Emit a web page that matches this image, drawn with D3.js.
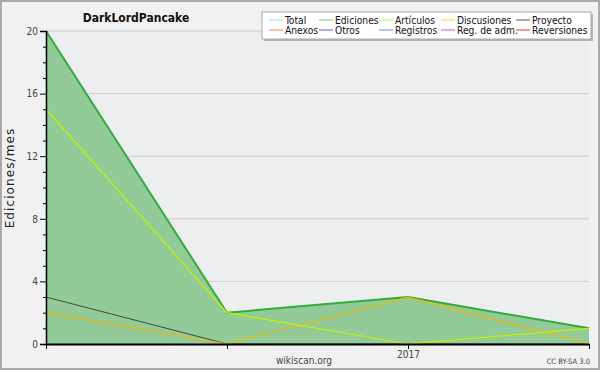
<!DOCTYPE html>
<html>
<head>
<meta charset="utf-8">
<script src="https://cdn.jsdelivr.net/npm/d3@7"></script>
<style>
  body { margin: 0; background: #fff; }
  svg text { font-family: "DejaVu Sans Condensed", "DejaVu Sans", sans-serif; font-stretch: condensed; }
</style>
</head>
<body>
<div id="viz"></div>
<script>
// data ----
var months = ["2016-11", "2016-12", "2017-01", "2017-02"]
var xLabels = ["", "", "2017", ""]
var total = [20, 2, 3, 1]
var ediciones = [20, 2, 3, 1]
var articulos = [15, 2, 0, 1]
var discusiones = [2, 0, 3, 0]
var proyecto = [3, 0, 0, 0]
var yTicks = [0, 4, 8, 12, 16, 20]

var legendNames = ["Total", "Ediciones", "Artículos", "Discusiones", "Proyecto",
                   "Anexos", "Otros", "Registros", "Reg. de adm.", "Reversiones"]
var legendColors = ["#aadddd", "#77c48a", "#ccee55", "#f7cc44", "#555555",
                    "#f78244", "#8844cc", "#7788ee", "#cc55dd", "#ee3333"]

width = 600
height = 370
margin = {top: 31, left: 46, right: 11, bottom: 26}

var svg = d3.select("#viz")
  .append("svg")
  .attr("width", width)
  .attr("height", height)

// background + frame
svg.append("rect")
  .attr("x", 1).attr("y", 1)
  .attr("width", width - 2).attr("height", height - 2)
  .attr("fill", "#f1f1f1")
  .attr("stroke", "#aaaaaa")
  .attr("stroke-width", 2)

svg.append("rect")
  .attr("x", margin.left).attr("y", margin.top)
  .attr("width", width - margin.left - margin.right)
  .attr("height", height - margin.top - margin.bottom)
  .attr("fill", "#eceef0")

// step 1 : Scaling ----
var xScale = d3.scalePoint()
  .domain(months)
  .range([margin.left, width - margin.right])

var yScale = d3.scaleLinear()
  .domain([0, 20])
  .range([height - margin.bottom, margin.top])

// grid
svg.append("g")
  .selectAll("line")
  .data(yTicks.slice(1))
  .enter()
  .append("line")
    .attr("x1", margin.left)
    .attr("x2", width - margin.right)
    .attr("y1", d => yScale(d))
    .attr("y2", d => yScale(d))
    .attr("stroke", "#cccccc")
    .attr("stroke-width", 1)

// step 2 : Area + lines ----
var area = d3.area()
  .x((d, i) => xScale(months[i]))
  .y0(yScale(0))
  .y1(d => yScale(d))

var line = d3.line()
  .x((d, i) => xScale(months[i]))
  .y(d => yScale(d))

svg.append("path")
  .datum(ediciones)
  .attr("d", area)
  .attr("fill", "#92cb98")

svg.append("path")
  .datum(total)
  .attr("d", line)
  .attr("fill", "none")
  .attr("stroke", "#aadddd")
  .attr("stroke-width", 1)

svg.append("path")
  .datum(ediciones)
  .attr("d", line)
  .attr("fill", "none")
  .attr("stroke", "#30ac3c")
  .attr("stroke-width", 2)

svg.append("path")
  .datum(proyecto)
  .attr("d", line)
  .attr("fill", "none")
  .attr("stroke", "#444444")
  .attr("stroke-width", 1)

svg.append("path")
  .datum(discusiones)
  .attr("d", line)
  .attr("fill", "none")
  .attr("stroke", "#f2b800")
  .attr("stroke-width", 1.2)

svg.append("path")
  .datum(articulos)
  .attr("d", line)
  .attr("fill", "none")
  .attr("stroke", "#c4f000")
  .attr("stroke-width", 1.2)

// step 3 : Axis ----
var y_axis = d3.axisLeft(yScale)
  .tickValues(yTicks)
  .tickSize(6)
  .tickFormat(d3.format("d"))

var y_minor = d3.axisLeft(yScale)
  .tickValues(d3.range(0, 21, 1).filter(d => d % 4 != 0))
  .tickSize(3)
  .tickFormat("")

var yg = svg.append("g")
  .attr("transform", "translate(" + margin.left + ",0)")
  .call(y_axis)
svg.append("g")
  .attr("transform", "translate(" + margin.left + ",0)")
  .call(y_minor)
  .select(".domain").remove()

yg.select(".domain").attr("stroke", "#000").attr("stroke-width", 1.5)
yg.selectAll("text").attr("font-size", 10).attr("fill", "#444").attr("dx", 1)

var x_axis = d3.axisBottom(xScale)
  .tickSize(5)
  .tickSizeOuter(0)
  .tickFormat((d, i) => xLabels[i])

var xg = svg.append("g")
  .attr("transform", "translate(0," + yScale(0) + ")")
  .call(x_axis)

xg.select(".domain").attr("stroke", "#000").attr("stroke-width", 2)
xg.selectAll("text").attr("font-size", 10).attr("fill", "#444").attr("dy", "0.55em")

// step 4 : Labels ----
svg.append("text")
  .text("DarkLordPancake")
  .attr("x", 136).attr("y", 22)
  .attr("text-anchor", "middle")
  .attr("font-size", 12)
  .attr("font-weight", "bold")
  .attr("fill", "#111")

svg.append("text")
  .text("Ediciones/mes")
  .attr("transform", "translate(14,178) rotate(-90)")
  .attr("text-anchor", "middle")
  .attr("font-size", 12)
  .style("font-family", "'DejaVu Sans', sans-serif")
  .style("font-stretch", "normal")
  .attr("letter-spacing", 1.1)
  .attr("fill", "#222")

svg.append("text")
  .text("wikiscan.org")
  .attr("x", 304).attr("y", 364)
  .attr("text-anchor", "middle")
  .attr("font-size", 10)
  .attr("fill", "#444")

svg.append("text")
  .text("CC BY-SA 3.0")
  .attr("x", 590).attr("y", 364)
  .attr("text-anchor", "end")
  .attr("font-size", 7.5)
  .attr("fill", "#444")

// step 5 : Legend ----
var legend = svg.append("g")

legend.append("rect")
  .attr("x", 264).attr("y", 14)
  .attr("width", 329).attr("height", 27)
  .attr("fill", "#b4b4b4")

legend.append("rect")
  .attr("x", 262).attr("y", 12)
  .attr("width", 329).attr("height", 27)
  .attr("fill", "#ffffff")
  .attr("stroke", "#aaaaaa")

var colX = [269, 319, 379, 441, 516]

var items = legend.selectAll(".item")
  .data(legendNames)
  .enter()
  .append("g")
    .attr("class", "item")
    .attr("transform", (d, i) => "translate(" + colX[i % 5] + "," + (20 + Math.floor(i / 5) * 10) + ")")

items.append("line")
  .attr("x1", 0).attr("x2", 14)
  .attr("stroke", (d, i) => legendColors[i])
  .attr("stroke-width", 1)

items.append("text")
  .text(d => d)
  .attr("x", 16).attr("y", 4)
  .attr("font-size", 10.2)
  .attr("fill", "#111")
</script>
</body>
</html>
